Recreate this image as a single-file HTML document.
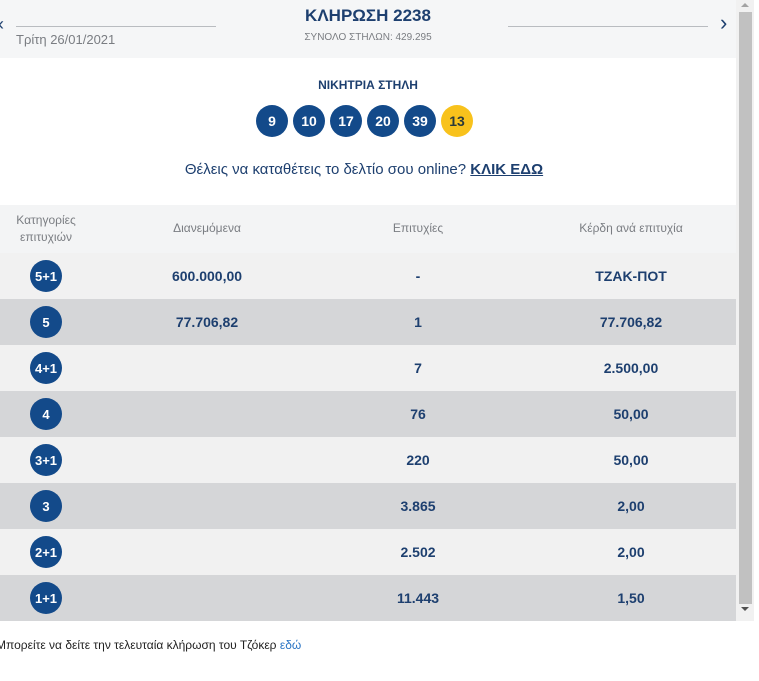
<!DOCTYPE html>
<html><head><meta charset="utf-8">
<style>
*{margin:0;padding:0;box-sizing:border-box}
body{width:759px;height:681px;background:#fff;font-family:"Liberation Sans","DejaVu Sans",sans-serif;position:relative;overflow:hidden;color:#1d3f6f}
.abs{position:absolute}
.hdr{left:0;top:0;width:736px;height:58px;background:#f5f6f7}
.line{height:1px;background:#b9bcc0}
.ball{width:32px;height:32px;border-radius:50%;background:#134a8a;color:#fff;font-weight:bold;font-size:14px;display:flex;align-items:center;justify-content:center}
.row{left:0;width:736px;height:46px}
.badge{position:absolute;left:30px;top:7px;width:32px;height:32px;border-radius:50%;background:#134a8a;color:#fff;font-weight:bold;font-size:13px;display:flex;align-items:center;justify-content:center}
.cell{position:absolute;top:0;height:46px;line-height:46px;font-weight:bold;font-size:14px;color:#1d3f6f;transform:translateX(-50%);white-space:nowrap}
.th{position:absolute;font-size:12px;color:#7a7d82;transform:translateX(-50%);text-align:center;line-height:17px;white-space:nowrap}
</style></head><body>
<div class="abs hdr"></div>
<div class="abs" style="left:-2px;top:14px;font-size:18px;color:#1d3f6f">‹</div>
<div class="abs line" style="left:16px;top:26px;width:200px"></div>
<div class="abs" style="left:16px;top:32px;font-size:13px;color:#7a7d82">Τρίτη 26/01/2021</div>
<div class="abs" style="left:368px;top:6px;transform:translateX(-50%);font-size:17px;font-weight:bold;color:#1d3f6f;white-space:nowrap">ΚΛΗΡΩΣΗ 2238</div>
<div class="abs" style="left:368px;top:32px;transform:translateX(-50%);font-size:10px;color:#7a7d82;white-space:nowrap">ΣΥΝΟΛΟ ΣΤΗΛΩΝ: 429.295</div>
<div class="abs line" style="left:508px;top:26px;width:200px"></div>
<div class="abs" style="left:720px;top:10px;font-size:22px;color:#1d3f6f">›</div>

<div class="abs" style="left:368px;top:78px;transform:translateX(-50%);font-size:12px;font-weight:bold;color:#1d3f6f;white-space:nowrap">ΝΙΚΗΤΡΙΑ ΣΤΗΛΗ</div>
<div class="abs" style="left:256px;top:105px;display:flex;gap:5px">
<div class="ball">9</div>
<div class="ball">10</div>
<div class="ball">17</div>
<div class="ball">20</div>
<div class="ball">39</div>
<div class="ball" style="background:#f8c21c;color:#2a3a3a">13</div>
</div>
<div class="abs" style="left:364px;top:161px;transform:translateX(-50%);font-size:15px;color:#1d3f6f;white-space:nowrap">Θέλεις να καταθέτεις το δελτίο σου online? <a style="font-weight:bold;color:#1d3f6f;text-decoration:underline">ΚΛΙΚ ΕΔΩ</a></div>

<div class="abs row" style="top:205px;height:48px;background:#f3f4f5">
<div class="th" style="left:46px;top:7px">Κατηγορίες<br>επιτυχιών</div>
<div class="th" style="left:207px;top:15px">Διανεμόμενα</div>
<div class="th" style="left:418px;top:15px">Επιτυχίες</div>
<div class="th" style="left:631px;top:15px">Κέρδη ανά επιτυχία</div>
</div>
<div id="rows"></div>
<div class="abs" style="left:-4px;top:638px;font-size:12px;color:#222">Μπορείτε να δείτε την τελευταία κλήρωση του Τζόκερ <a style="color:#2a74c4">εδώ</a></div>

<div class="abs" style="left:736px;top:0;width:18px;height:621px;background:#f1f1f1"></div>
<div class="abs" style="left:739px;top:12px;width:13px;height:592px;background:#c1c1c1"></div>
<div class="abs" style="left:741px;top:607px;width:0;height:0;border-left:4px solid transparent;border-right:4px solid transparent;border-top:4px solid #505050"></div>
<div class="abs" style="left:741px;top:3px;width:0;height:0;border-left:4px solid transparent;border-right:4px solid transparent;border-bottom:4px solid #a3a3a3"></div>
<script>
const categories=["5+1","5","4+1","4","3+1","3","2+1","1+1"];
const distributed=["600.000,00","77.706,82","","","","","",""];
const winners=["-","1","7","76","220","3.865","2.502","11.443"];
const prizes=["ΤΖΑΚ-ΠΟΤ","77.706,82","2.500,00","50,00","50,00","2,00","2,00","1,50"];
const host=document.getElementById('rows');
categories.forEach((c,i)=>{
  const r=document.createElement('div');
  r.className='abs row';
  r.style.top=(253+i*46)+'px';
  r.style.background=i%2?'#d5d6d8':'#f1f1f1';
  
  
  r.innerHTML='<div class="badge">'+c+'</div><div class="cell" style="left:207px">'+distributed[i]+'</div><div class="cell" style="left:418px">'+winners[i]+'</div><div class="cell" style="left:631px">'+prizes[i]+'</div>';
  host.appendChild(r);
});
</script>
</body></html>
